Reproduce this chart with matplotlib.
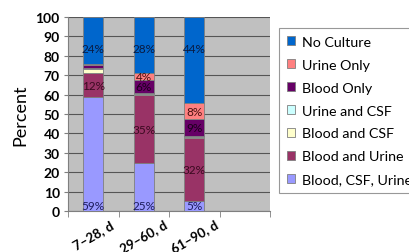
import numpy as np
import matplotlib
matplotlib.use("Agg")
import matplotlib.pyplot as plt

plt.rcParams['font.family'] = ['Lato', 'DejaVu Sans']

groups = ['7\u201328, d', '29\u201360, d', '61\u201390, d', '']
series = ['Blood, CSF, Urine', 'Blood and Urine', 'Blood and CSF',
          'Urine and CSF', 'Blood Only', 'Urine Only', 'No Culture']
values = {
    'Blood, CSF, Urine': [58.5, 24.5, 5.0],
    'Blood and Urine':   [12.5, 35.5, 32.5],
    'Blood and CSF':     [2.0, 0.5, 0.5],
    'Urine and CSF':     [0.5, 0.5, 0.5],
    'Blood Only':        [1.5, 6.5, 9.0],
    'Urine Only':        [1.0, 3.5, 8.0],
    'No Culture':        [24.0, 29.0, 44.5],
}
labels = {
    'Blood, CSF, Urine': ['59%', '25%', '5%'],
    'Blood and Urine':   ['12%', '35%', '32%'],
    'Blood Only':        ['', '6%', '9%'],
    'Urine Only':        ['', '4%', '8%'],
    'No Culture':        ['24%', '28%', '44%'],
}
colors = {
    'Blood, CSF, Urine': '#9999FF',
    'Blood and Urine':   '#993366',
    'Blood and CSF':     '#FFFFCC',
    'Urine and CSF':     '#CCFFFF',
    'Blood Only':        '#660066',
    'Urine Only':        '#FF8080',
    'No Culture':        '#0066CC',
}
text_colors = {
    'Blood, CSF, Urine': '#1c1c5c',
    'Blood and Urine':   '#3a0a20',
    'Blood Only':        '#1a001a',
    'Urine Only':        '#4a1010',
    'No Culture':        '#0a1a40',
}

fig = plt.figure(figsize=(4.10, 2.53), dpi=100)
ax = fig.add_axes([0.166, 0.162, 0.493, 0.767])
ax.set_facecolor('#C0C0C0')

x = np.arange(3)
bottom = np.zeros(3)
handles = {}
for s in series:
    v = np.array(values[s])
    b = ax.bar(x, v, 0.4, bottom=bottom, color=colors[s],
               edgecolor='#7f7f7f', linewidth=0.6, zorder=3)
    handles[s] = b
    if s in labels:
        for i in range(3):
            if s == 'Blood, CSF, Urine':
                yy = 3
            elif s == 'No Culture':
                yy = 84
            else:
                yy = bottom[i] + v[i] / 2
            ax.text(x[i], yy, labels[s][i], ha='center', va='center',
                    fontsize=8.5, color=text_colors[s], zorder=4)
    bottom += v

ax.set_xlim(-0.5, 3.5)
ax.set_ylim(0, 100)
ax.set_yticks(np.arange(0, 101, 10))
ax.yaxis.grid(True, color='#555555', linewidth=0.8, zorder=0)
ax.set_xticks(np.arange(4))
ax.set_xticklabels(groups, rotation=30, ha='center', fontsize=9.5, fontweight='bold')
ax.set_xticks(np.arange(-0.5, 3.6, 1), minor=True)
ax.tick_params(axis='x', which='major', length=0, pad=5)
ax.tick_params(axis='x', which='minor', length=4, color='#7f7f7f')
ax.tick_params(axis='y', labelsize=10, length=3, color='#7f7f7f', pad=3)
for lab in ax.get_yticklabels():
    lab.set_fontweight('bold')
for side in ['top', 'right']:
    ax.spines[side].set_visible(False)
ax.spines['left'].set_color('#7f7f7f')
ax.spines['bottom'].set_color('#7f7f7f')
ax.set_ylabel('Percent', fontsize=13, labelpad=5)

order = ['No Culture', 'Urine Only', 'Blood Only', 'Urine and CSF',
         'Blood and CSF', 'Blood and Urine', 'Blood, CSF, Urine']
leg = fig.legend([handles[s] for s in order], order, loc='upper left',
                 bbox_to_anchor=(0.68, 0.885), borderaxespad=0,
                 fontsize=10.3, frameon=True,
                 fancybox=False, edgecolor='#7f7f7f', handlelength=0.6,
                 handleheight=0.6, handletextpad=0.45, labelspacing=0.76,
                 borderpad=0.55)
leg.get_frame().set_linewidth(0.8)

fig.savefig('out.png', dpi=100)
